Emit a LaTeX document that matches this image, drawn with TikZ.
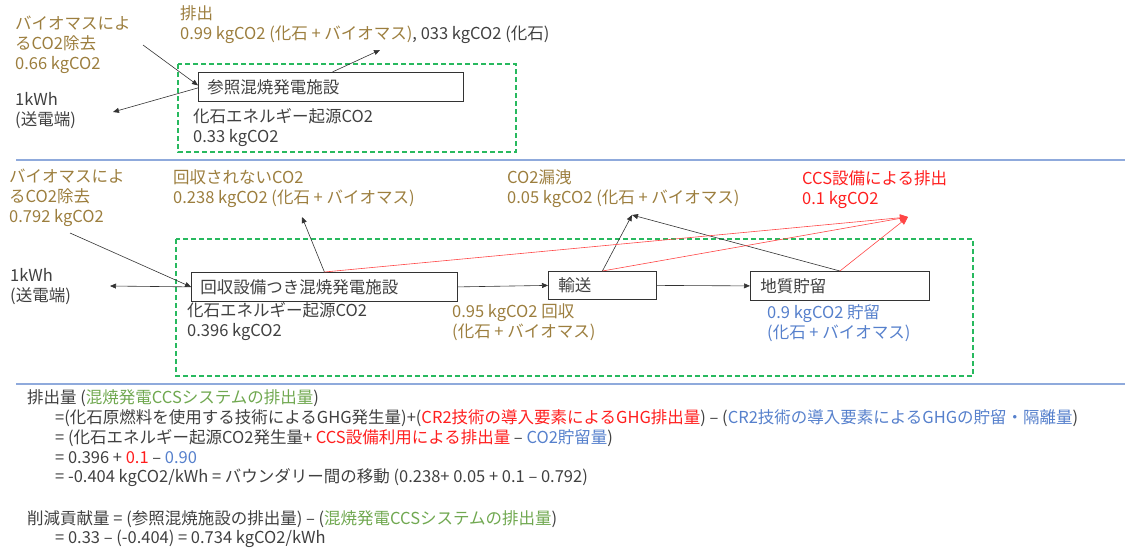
\documentclass[tikz,border=0pt]{standalone}
\usepackage{fontspec}
\setmainfont{Noto Sans CJK JP}
\usetikzlibrary{arrows.meta}
\definecolor{gold}{RGB}{156,126,62}
\definecolor{dtext}{RGB}{64,64,64}
\definecolor{btext}{RGB}{86,128,204}
\definecolor{gtext}{RGB}{112,168,80}
\definecolor{rtext}{RGB}{255,30,30}
\definecolor{sepblue}{RGB}{143,170,220}
\definecolor{dgreen}{RGB}{40,185,95}
\definecolor{rline}{RGB}{255,70,70}
\tikzset{
  lbl/.style={anchor=west, inner sep=0pt, align=left, text=dtext},
  stepbox/.style={draw=black!80, line width=0.8pt, fill=white, anchor=north west,
    inner xsep=9pt, inner ysep=0pt, align=left, text=dtext},
  bound/.style={draw=dgreen, line width=1.2pt, dash pattern=on 5pt off 3pt},
  sep/.style={draw=sepblue, line width=1.6pt},
  arr/.style={draw=black!80, line width=0.6pt, -{Triangle[length=6pt,width=5pt]}},
  rarr/.style={draw=rline, line width=0.6pt, -{Triangle[length=8pt,width=7pt]}}
}
\begin{document}
\begin{tikzpicture}[x=1pt,y=-1pt,font=\fontsize{16.5}{20}\selectfont]
\useasboundingbox (0,0) rectangle (1125,552);

% separators
\draw[sep] (16,160) coordinate (s1a) -- (1125,160) coordinate (s1b);
\draw[sep] (16,384) coordinate (s2a) -- (1125,384) coordinate (s2b);

% ---------- top section ----------
\draw[bound] (178,64) rectangle (516,152);
\node[stepbox, minimum height=29pt, text width=247pt] (ref) at (198,72) {参照混焼発電施設};

\node[lbl, text=gold] (bio1) at (15,45) {バイオマスによ\\るCO2除去\\0.66 kgCO2};
\node[lbl, text=gold] (emit1) at (180,25) {排出\\0.99 kgCO2 (化石 + バイオマス){\color{dtext}, 033 kgCO2 (化石)}};
\node[lbl] (kwh1) at (15,111) {1kWh\\(送電端)};
\node[lbl] (fos1) at (193,128) {化石エネルギー起源CO2\\0.33 kgCO2};

\coordinate (bio1e) at (143,45);
\coordinate (kwh1e) at (113,112);
\coordinate (emit1e) at (380,50);
\draw[arr] (bio1e) -- ([yshift=1.5pt]ref.west);
\draw[arr] ([yshift=-1pt]ref.west) -- (kwh1e);
\draw[arr] ([xshift=1.5pt]ref.north) -- (emit1e);

% ---------- middle section ----------
\draw[bound] (176,239) rectangle (973,376);
\node[stepbox, minimum height=29pt, text width=248pt] (cap) at (191,272) {回収設備つき混焼発電施設};
\node[stepbox, minimum height=28pt, text width=88pt, inner xsep=10pt] (trans) at (548,271) {輸送};
\node[stepbox, minimum height=29pt, text width=159pt, inner xsep=10pt] (store) at (750,271) {地質貯留};

\node[lbl, text=gold] (bio2) at (9,198) {バイオマスによ\\るCO2除去\\0.792 kgCO2};
\node[lbl, text=gold] (uncap) at (173,189) {回収されないCO2\\0.238 kgCO2 (化石 + バイオマス)};
\node[lbl, text=gold] (leak) at (507,189) {CO2漏洩\\0.05 kgCO2 (化石 + バイオマス)};
\node[lbl, text=rtext] (ccs) at (802,190) {CCS設備による排出\\0.1 kgCO2};
\node[lbl] (kwh2) at (10,287) {1kWh\\(送電端)};
\node[lbl] (fos2) at (187,322) {化石エネルギー起源CO2\\0.396 kgCO2};
\node[lbl, text=gold] (capt) at (452,322) {0.95 kgCO2 回収\\(化石 + バイオマス)};
\node[lbl, text=btext] (stored) at (767,323) {0.9 kgCO2 貯留\\(化石 + バイオマス)};

\coordinate (bio2e) at (70,233);
\coordinate (kwh2e) at (110,286);
\coordinate (uncape) at (302,217);
\coordinate (leake) at (632,215);
\coordinate (ccse) at (908,217);

\draw[arr] (bio2e) -- (cap.west);
\draw[arr] (cap.west) -- (kwh2e);
\draw[arr] (cap.north) -- (uncape);
\draw[arr] (cap.east) -- (trans.west);
\draw[arr] (trans.east) -- (store.west);
\draw[arr] (trans.north) -- (leake);
\draw[arr] (store.north) -- (leake);
\draw[rarr] (cap.north) -- (ccse);
\draw[rarr] (trans.north) -- (ccse);
\draw[rarr] (store.north) -- (ccse);

% ---------- formula ----------
\node[lbl] (f1) at (27,398) {排出量 ({\color{gtext}混焼発電CCSシステムの排出量})};
\node[lbl] (f2) at (55,418) {=(化石原燃料を使用する技術によるGHG発生量)+({\color{rtext}CR2技術の導入要素によるGHG排出量}) – ({\color{btext}CR2技術の導入要素によるGHGの貯留・隔離量})};
\node[lbl] (f3) at (55,438) {= (化石エネルギー起源CO2発生量+ {\color{rtext}CCS設備利用による排出量} – {\color{btext}CO2貯留量})};
\node[lbl] (f4) at (55,458) {= 0.396 + {\color{rtext}0.1} – {\color{btext}0.90}};
\node[lbl] (f5) at (55,478) {= -0.404 kgCO2/kWh = バウンダリー間の移動 (0.238+ 0.05 + 0.1 – 0.792)};
\node[lbl] (f7) at (27,519) {削減貢献量 = (参照混焼施設の排出量) – ({\color{gtext}混焼発電CCSシステムの排出量})};
\node[lbl] (f8) at (55,539) {= 0.33 – (-0.404) = 0.734 kgCO2/kWh};
\end{tikzpicture}
\end{document}
